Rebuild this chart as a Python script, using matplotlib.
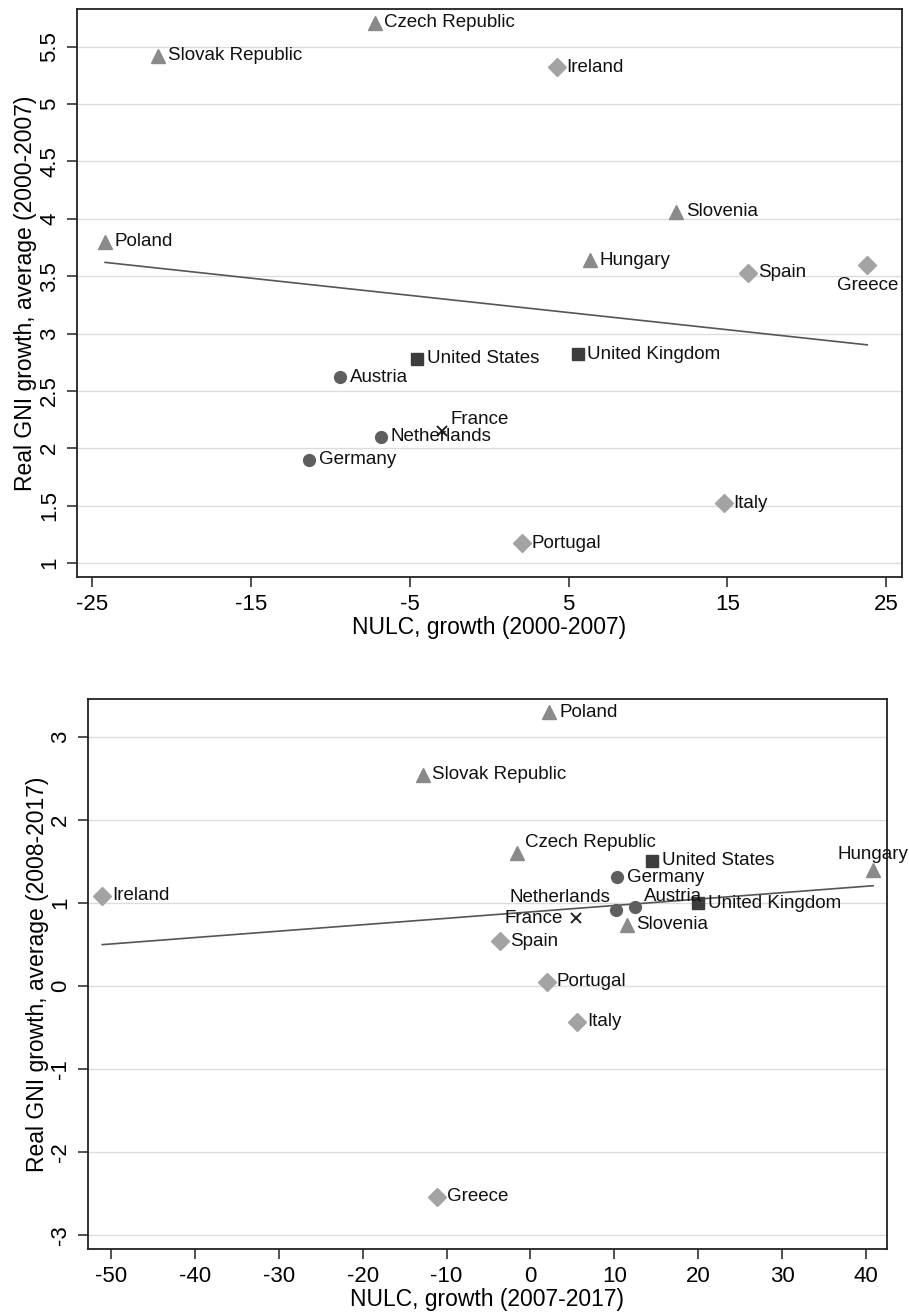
import numpy as np
import matplotlib.pyplot as plt

plt.rcParams['font.family'] = ['Liberation Sans', 'DejaVu Sans']
plt.rcParams['axes.unicode_minus'] = False

countries = ['Czech Republic', 'Slovak Republic', 'Ireland', 'Slovenia', 'Poland',
             'Hungary', 'Spain', 'Greece', 'United Kingdom', 'United States',
             'Austria', 'France', 'Netherlands', 'Germany', 'Portugal', 'Italy']

# 2000-2007
nulc_0007 = [-7.21, -20.85, 4.27, 11.78, -24.18, 6.34, 16.31, 23.81, 5.58, -4.51,
             -9.40, -2.94, -6.83, -11.35, 2.07, 14.77]
gni_0007 = [5.71, 5.42, 5.32, 4.06, 3.80, 3.64, 3.53, 3.60, 2.82, 2.78,
            2.62, 2.15, 2.10, 1.90, 1.17, 1.52]
fit_0007 = (3.258, -0.01498)   # intercept, slope of the linear fit

# 2007/2008-2017
nulc_0717 = [-1.63, -12.85, -51.03, 11.49, 2.26, 40.84, -3.63, -11.10, 20.03, 14.47,
             12.52, 5.40, 10.18, 10.30, 1.94, 5.60]
gni_0817 = [1.60, 2.55, 1.09, 0.74, 3.30, 1.40, 0.54, -2.54, 1.00, 1.51,
            0.95, 0.82, 0.92, 1.31, 0.05, -0.43]
fit_0717 = (0.894, 0.00773)

group = {
    'Czech Republic': 'cee', 'Slovak Republic': 'cee', 'Slovenia': 'cee',
    'Poland': 'cee', 'Hungary': 'cee',
    'Ireland': 'south', 'Spain': 'south', 'Greece': 'south',
    'Portugal': 'south', 'Italy': 'south',
    'Austria': 'core', 'Netherlands': 'core', 'Germany': 'core',
    'United Kingdom': 'lib', 'United States': 'lib',
    'France': 'fr',
}
styles = {
    'cee':   dict(marker='^', ms=10.5, color='#8a8a8a'),
    'south': dict(marker='D', ms=8.8, color='#a3a3a3'),
    'core':  dict(marker='o', ms=8.5, color='#5e5e5e'),
    'lib':   dict(marker='s', ms=8.3, color='#3c3c3c'),
    'fr':    dict(marker='x', ms=6.5, color='#222222', mew=1.4),
}

# clock positions for the marker labels (3 = right of the marker)
label_pos = {
    1:  ((6, 8), 'left', 'center'),
    3:  ((7, 0), 'left', 'center'),
    6:  ((0, -15), 'center', 'center'),
    9:  ((-9, 0), 'right', 'center'),
    11: ((-4, 9), 'right', 'center'),
    12: ((0, 11), 'center', 'center'),
}
pos_top = {'Greece': 6, 'France': 1}
pos_bottom = {'Czech Republic': 1, 'Hungary': 12, 'Netherlands': 11,
              'Austria': 1, 'France': 9}


def scatter_panel(ax, x, y, fit, positions, xticks, yticks, ylabels, xlim, ylim,
                  xlabel, ylabel, ylabelpad):
    for yt in yticks:
        ax.axhline(yt, color='#dcdcdc', lw=1, zorder=0)

    a, b = fit
    xs = np.array([min(x), max(x)])
    ax.plot(xs, a + b * xs, color='#555555', lw=1.2, zorder=2)

    for c, xi, yi in zip(countries, x, y):
        st = dict(styles[group[c]])
        ax.plot(xi, yi, ls='none', marker=st.pop('marker'), ms=st.pop('ms'),
                color=st.pop('color'), zorder=3, **st)
        off, ha, va = label_pos[positions.get(c, 3)]
        ax.annotate(c, (xi, yi), xytext=off, textcoords='offset points',
                    ha=ha, va=va, fontsize=13.5, color='#111111', zorder=4)

    ax.set_xlim(*xlim)
    ax.set_ylim(*ylim)
    ax.set_xticks(xticks)
    ax.set_yticks(yticks)
    ax.set_yticklabels(ylabels, rotation=90, va='center')
    ax.tick_params(length=7, width=1.2, labelsize=16, pad=5, color='#333333')
    ax.set_xlabel(xlabel, fontsize=16.5, labelpad=1)
    ax.set_ylabel(ylabel, fontsize=16.5, labelpad=ylabelpad)
    for s in ax.spines.values():
        s.set_linewidth(1.3)
        s.set_color('#222222')


fig = plt.figure(figsize=(9.09, 13.13), dpi=100)
ax1 = fig.add_axes([0.0847, 0.5606, 0.9076, 0.4326])
ax2 = fig.add_axes([0.0968, 0.0487, 0.8790, 0.4189])

top_yt = [1, 1.5, 2, 2.5, 3, 3.5, 4, 4.5, 5, 5.5]
scatter_panel(ax1, nulc_0007, gni_0007, fit_0007, pos_top,
              [-25, -15, -5, 5, 15, 25], top_yt, [f'{v:g}' for v in top_yt],
              (-25.95, 26.0), (0.878, 5.83),
              'NULC, growth (2000-2007)', 'Real GNI growth, average (2000-2007)', 2)

bot_yt = [-3, -2, -1, 0, 1, 2, 3]
scatter_panel(ax2, nulc_0717, gni_0817, fit_0717, pos_bottom,
              list(range(-50, 41, 10)), bot_yt, [str(v) for v in bot_yt],
              (-52.74, 42.5), (-3.17, 3.46),
              'NULC, growth (2007-2017)', 'Real GNI growth, average (2008-2017)', 1)

fig.savefig('out.png', dpi=100)
